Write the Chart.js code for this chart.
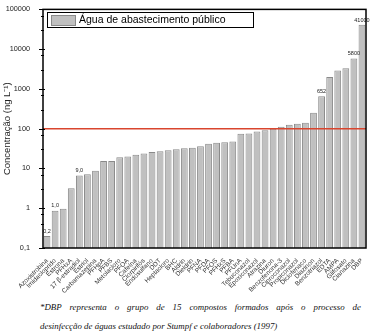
<!DOCTYPE html>
<html>
<head>
<meta charset="utf-8">
<script src="https://cdn.jsdelivr.net/npm/chart.js@4"></script>
<style>
  body { margin: 0; background: #fff; }
  #wrap { position: relative; width: 375px; height: 300px; }
  .note {
    position: absolute; left: 40px; width: 321px; white-space: nowrap;
    font-family: "Liberation Serif", "DejaVu Serif", serif; font-style: italic;
    font-size: 8.9px; line-height: 12px; color: #111;
  }
  #note1 { top: 301px; text-align: justify; text-align-last: justify; white-space: normal; }
  #note2 { top: 320px; text-align: left; }
</style>
</head>
<body>
<div id="wrap"><canvas id="chart" width="375" height="300"></canvas></div>
<div class="note" id="note1">*DBP representa o grupo de 15 compostos formados após o processo de</div>
<div class="note" id="note2">desinfecção de águas estudado por Stumpf e colaboradores (1997)</div>
<script>
// compounds, ordered by concentration
const compounds = [
  'Azoxistrobina', 'Imidacloprido', 'Estrona', 'PFHxA', '17 β-estradiol', 'Estriol',
  'Carbamazepina', 'PFHpA', 'PFBS', 'Metolacloro', 'PFOA', 'Cafeína', 'Clorpirifós',
  'Endosulfano', 'DDT', 'Heptacloro', 'BHC', 'Aldrin', 'Dieldrin', 'PFNA', 'PFDA',
  'PFOS', 'PFHxS', 'PFBA', 'PFUnA', 'Tebuconazol', 'Epoxiconazol', 'Atrazina', 'Diuron',
  'Benzofenona-3', 'Ciproconazol', 'Propiconazol', 'Diclofenaco', 'Diazinon',
  'Benzotriazol', 'EDTA', 'AMPA', 'Glifosato', 'Cianazina', 'DBP'
];
// ng/L
const concentrations = [
  0.2, 0.87, 0.97, 3.2, 6.7, 7.2, 8.7, 15.5, 15.5, 19, 20, 22, 23.7, 26, 27, 28.6,
  30.5, 32, 33, 36, 41.7, 44, 45.7, 47.5, 75, 76, 85, 91, 100, 112, 125, 134, 142,
  250, 652, 2000, 2900, 3300, 5800, 41000
];
// labels written over some bars
const valueNotes = [
  { index: 0, text: '0,2' }, { index: 1, text: '1,0' }, { index: 4, text: '9,0' },
  { index: 34, text: '652' }, { index: 38, text: '5800' }, { index: 39, text: '41000' }
];
const limitValue = 100;
const yMin = 0.1, yMax = 100000;

const decorations = {
  id: 'decorations',
  afterDatasetsDraw(chart) {
    const { ctx, chartArea: a, scales: { y } } = chart;
    const meta = chart.getDatasetMeta(0);
    ctx.save();

    // red reference line
    const ly = y.getPixelForValue(limitValue);
    ctx.strokeStyle = '#d9452e';
    ctx.lineWidth = 1.5;
    ctx.beginPath(); ctx.moveTo(a.left, ly); ctx.lineTo(a.right, ly); ctx.stroke();

    // value notes
    ctx.fillStyle = '#222';
    ctx.font = '5.5px "Liberation Sans", Arial, sans-serif';
    ctx.textAlign = 'center';
    ctx.textBaseline = 'bottom';
    valueNotes.forEach(n => {
      const bar = meta.data[n.index];
      ctx.fillText(n.text, bar.x, bar.y - 2);
    });

    // frame
    ctx.strokeStyle = '#000';
    ctx.lineWidth = 1.5;
    ctx.strokeRect(a.left, a.top, a.right - a.left, a.bottom - a.top);

    // y tick marks
    ctx.lineWidth = 1;
    y.ticks.forEach(t => {
      const p = Math.round(y.getPixelForValue(t.value)) + 0.5;
      const major = Math.abs(Math.log10(t.value) - Math.round(Math.log10(t.value))) < 1e-6;
      const len = major ? 4 : 2;
      ctx.beginPath(); ctx.moveTo(a.left - len, p); ctx.lineTo(a.left + (major ? 2 : 1), p); ctx.stroke();
    });

    // legend
    const lx = 47, lyTop = 12;
    ctx.fillStyle = '#fff';
    ctx.fillRect(lx, lyTop, 206, 15);
    ctx.strokeStyle = '#000';
    ctx.lineWidth = 1;
    ctx.strokeRect(lx + 0.5, lyTop + 0.5, 206, 15);
    ctx.fillStyle = '#c0c0c0';
    ctx.fillRect(lx + 4, lyTop + 3, 24, 10);
    ctx.strokeStyle = '#8a8a8a';
    ctx.strokeRect(lx + 4.5, lyTop + 3.5, 24, 10);
    ctx.fillStyle = '#000';
    ctx.font = '10.5px "Liberation Sans", Arial, sans-serif';
    ctx.textAlign = 'left';
    ctx.textBaseline = 'middle';
    ctx.fillText(chart.data.datasets[0].label, lx + 32, lyTop + 8.5);
    ctx.restore();
  }
};

new Chart(document.getElementById('chart'), {
  type: 'bar',
  data: {
    labels: compounds,
    datasets: [{
      label: 'Água de abastecimento público',
      data: concentrations,
      backgroundColor: '#c0c0c0',
      borderColor: '#8a8a8a',
      borderWidth: 1,
      barPercentage: 0.84,
      categoryPercentage: 1
    }]
  },
  options: {
    responsive: false,
    animation: false,
    layout: { padding: { left: 2, right: 9, top: 8, bottom: 0 } },
    plugins: { legend: { display: false }, tooltip: { enabled: false } },
    scales: {
      x: {
        grid: { display: false },
        border: { display: false },
        ticks: {
          autoSkip: false, maxRotation: 45, minRotation: 45, padding: 1,
          color: '#333', font: { size: 6.5, family: '"Liberation Sans", Arial, sans-serif' }
        },
        afterFit(scale) { scale.height = 52; }
      },
      y: {
        type: 'logarithmic',
        min: yMin, max: yMax,
        grid: { display: false },
        border: { display: false },
        title: {
          display: true, text: 'Concentração (ng L⁻¹)', color: '#222', padding: 0,
          font: { size: 9.5, family: '"Liberation Sans", Arial, sans-serif' }
        },
        ticks: {
          color: '#222', padding: 5,
          font: { size: 7.3, family: '"Liberation Sans", Arial, sans-serif' },
          callback(v) {
            const l = Math.log10(v);
            if (Math.abs(l - Math.round(l)) > 1e-6) return '';
            return v < 1 ? String(v).replace('.', ',') : String(Math.round(v));
          }
        },
        afterFit(scale) { scale.width = 41; }
      }
    }
  },
  plugins: [decorations]
});
</script>
</body>
</html>
